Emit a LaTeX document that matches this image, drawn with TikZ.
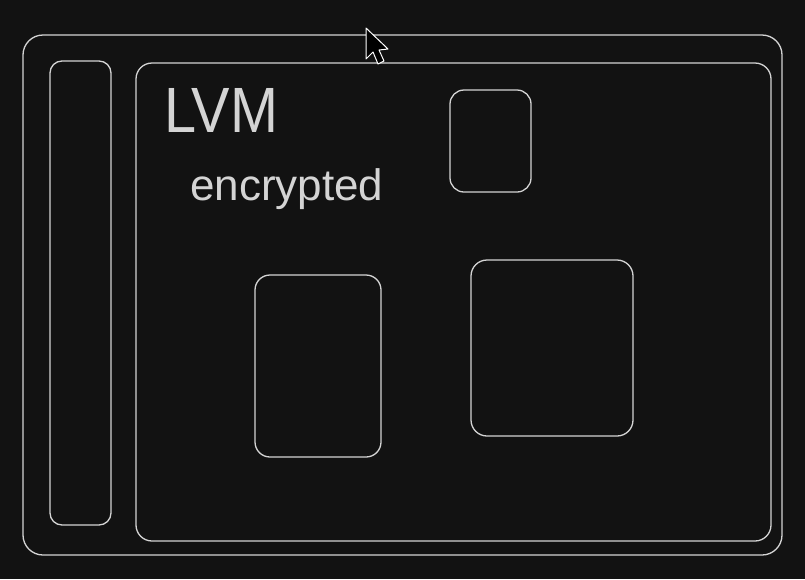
\documentclass[tikz,border=0pt]{standalone}
\usepackage{fontspec}
\setmainfont{Liberation Sans}
\definecolor{bg}{HTML}{121212}
\definecolor{ln}{HTML}{D4D4D4}
\begin{document}
\begin{tikzpicture}[x=1pt,y=-1pt,
  frame/.style={draw=ln,line width=1.3pt},
  hand/.style={text=ln,inner sep=0pt,anchor=base west}]
\fill[bg] (0,0) rectangle (805,579);
\useasboundingbox (0,0) rectangle (805,579);
% outer window
\draw[frame,rounded corners=20pt] (23,35) rectangle (782,555);
\node[inner sep=0pt] (outer) at (402.5,295) {};
% sidebar
\draw[frame,rounded corners=12pt] (50,61) rectangle (111,525);
\node[inner sep=0pt] (side) at (80.5,293) {};
% main panel
\draw[frame,rounded corners=16pt] (136,63) rectangle (771,541);
\node[inner sep=0pt] (main) at (453.5,302) {};
% boxes
\draw[frame,rounded corners=14pt] (450,90) rectangle (531,192);
\node[inner sep=0pt] (small) at (490.5,141) {};
\draw[frame,rounded corners=15pt] (255,275) rectangle (381,457);
\node[inner sep=0pt] (lbox) at (318,366) {};
\draw[frame,rounded corners=16pt] (471,260) rectangle (633,436);
\node[inner sep=0pt] (rbox) at (552,348) {};
% texts
\node[hand,font=\fontsize{64}{64}\selectfont] (lvm) at (164,132) {\scalebox{0.9}[1]{LVM}};
\node[hand,font=\fontsize{44}{44}\selectfont] (enc) at (190,200) {encrypted};
% cursor
\filldraw[fill=black,draw=white,line width=1pt,line join=round]
  (366,28) -- (366,59) -- (373,52) -- (378,64) -- (384,61) -- (379,50) -- (388,49) -- cycle;
\end{tikzpicture}
\end{document}
